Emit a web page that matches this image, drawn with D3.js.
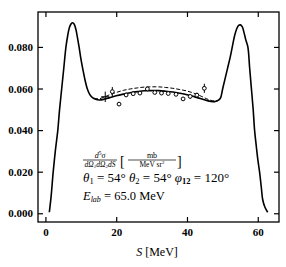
<!DOCTYPE html>
<html><head><meta charset="utf-8">
<script src="https://cdn.jsdelivr.net/npm/d3@7"></script>
<style>
body{margin:0;background:#fff;}
svg{display:block;font-family:"Liberation Serif","DejaVu Serif",serif;}
</style></head><body>
<svg id="c" width="286" height="267"></svg>
<script>
// ---- data ----
const curveS = [1.1,1.6,2.2,2.8,3.5,4.0,4.6,5.2,5.8,6.3,6.8,7.3,7.7,8.1,8.6,9.0,9.5,10.0,10.6,11.2,11.8,12.5,13.3,14.2,15.2,16.5,18,20,22,24,26,28,30,32,34,36,38,40,42,44,45.5,46.8,47.8,48.6,49.4,50.1,50.8,51.5,52.2,52.8,53.4,54.0,54.6,55.1,55.6,56.1,56.6,57.2,57.7,58.2,58.7,59.1,59.6,60.0,60.5,61.0,61.4,62.0,62.8];
const solidV = [0.0005,0.008,0.020,0.030,0.040,0.050,0.060,0.070,0.080,0.0855,0.0895,0.0912,0.0916,0.0910,0.0885,0.0850,0.0800,0.0745,0.0690,0.0640,0.0600,0.0572,0.0556,0.0548,0.0545,0.0548,0.0555,0.0565,0.0573,0.0580,0.0585,0.0589,0.0590,0.0590,0.0587,0.0583,0.0577,0.0570,0.0561,0.0551,0.0543,0.0538,0.0537,0.0541,0.0552,0.0600,0.0650,0.0700,0.0750,0.0800,0.0850,0.0885,0.0904,0.0906,0.0898,0.0870,0.0835,0.0800,0.0700,0.0600,0.0500,0.0400,0.0320,0.0260,0.0200,0.0125,0.0065,0.0030,0.0005];
const dashS = [12.5,13.3,14.2,15.2,16.5,18,20,22,24,26,28,30,32,34,36,38,40,42,44,45.5,46.8,47.8,48.6];
const dashV = [0.0572,0.0557,0.0551,0.0551,0.0558,0.0569,0.0581,0.0591,0.0598,0.0603,0.0607,0.0608,0.0608,0.0605,0.0601,0.0595,0.0588,0.0577,0.0563,0.0551,0.0543,0.0540,0.0542];
const expS   = [16.9,18.9,20.8,22.8,24.8,26.7,28.8,30.9,32.8,34.7,36.9,38.9,40.9,42.8,44.9];
const expV   = [0.0560,0.0585,0.0525,0.0569,0.0575,0.0578,0.0598,0.0581,0.0578,0.0576,0.0572,0.0550,0.0562,0.0568,0.0601];
const expErr = [0.0025,0.0022,0.0008,0.0008,0.0008,0.0008,0.0008,0.0008,0.0008,0.0008,0.0008,0.0008,0.0010,0.0012,0.0022];
const xTicks = [0,20,40,60];
const yTicks = [0,0.02,0.04,0.06,0.08];

// ---- layout ----
const svg = d3.select("#c");
const L=38,R=279,T=12,B=222;
const x = d3.scaleLinear().domain([-2.1,66]).range([L,R]);
const y = d3.scaleLinear().domain([-0.0042,0.0968]).range([B,T]);

svg.append("rect").attr("x",L).attr("y",T).attr("width",R-L).attr("height",B-T)
  .attr("fill","none").attr("stroke","#000").attr("stroke-width",1.3);

const fmt = d3.format(".3f");
const gl = svg.append("g").attr("transform",`translate(${L},0)`)
  .call(d3.axisLeft(y).tickValues(yTicks).tickFormat(fmt).tickSize(-5).tickPadding(5));
const gr = svg.append("g").attr("transform",`translate(${R},0)`)
  .call(d3.axisRight(y).tickValues(yTicks).tickFormat("").tickSize(-5));
const gb = svg.append("g").attr("transform",`translate(0,${B})`)
  .call(d3.axisBottom(x).tickValues(xTicks).tickFormat(d3.format("d")).tickSize(-5).tickPadding(6));
const gt = svg.append("g").attr("transform",`translate(0,${T})`)
  .call(d3.axisTop(x).tickValues(xTicks).tickFormat("").tickSize(-5));
[gl,gr,gb,gt].forEach(g=>{
  g.select(".domain").remove();
  g.selectAll("line").attr("stroke","#000").attr("stroke-width",1.2);
  g.selectAll("text").attr("fill","#000").attr("font-size",11)
   .attr("font-family","Liberation Serif, serif").attr("font-weight","bold");
});

// ---- curves ----
const line = d3.line().x(d=>x(d[0])).y(d=>y(d[1])).curve(d3.curveCatmullRom);
svg.append("path").datum(dashS.map((s,i)=>[s,dashV[i]])).attr("d",line)
  .attr("fill","none").attr("stroke","#000").attr("stroke-width",1).attr("stroke-dasharray","4,2");
svg.append("path").datum(curveS.map((s,i)=>[s,solidV[i]])).attr("d",line)
  .attr("fill","none").attr("stroke","#000").attr("stroke-width",1.6);

// ---- data points ----
const pts = expS.map((s,i)=>({s,v:expV[i],e:expErr[i],i}));
const gp = svg.append("g");
gp.selectAll("line.eb").data(pts).join("line").attr("class","eb")
  .attr("x1",d=>x(d.s)).attr("x2",d=>x(d.s))
  .attr("y1",d=>y(d.v-d.e)).attr("y2",d=>y(d.v+d.e))
  .attr("stroke","#000").attr("stroke-width",1);
gp.selectAll("line.hb").data(pts.filter(d=>d.i===0)).join("line").attr("class","hb")
  .attr("x1",d=>x(d.s)-4).attr("x2",d=>x(d.s)+4)
  .attr("y1",d=>y(d.v)).attr("y2",d=>y(d.v))
  .attr("stroke","#000").attr("stroke-width",1.2);
gp.selectAll("circle").data(pts.filter(d=>d.i!==0)).join("circle")
  .attr("cx",d=>x(d.s)).attr("cy",d=>y(d.v)).attr("r",1.9)
  .attr("fill","#fff").attr("stroke","#000").attr("stroke-width",1);

// ---- labels ----
svg.append("text").attr("x",157).attr("y",256).attr("text-anchor","middle")
  .attr("font-size",12).html('<tspan font-style="italic">S</tspan> [MeV]');

const ann = svg.append("g").attr("font-size",12);
// fraction d5sigma / dOmega1 dOmega2 dS
ann.append("text").attr("x",100).attr("y",157.5).attr("text-anchor","middle").attr("font-size",8)
  .html('<tspan font-style="italic">d</tspan><tspan font-size="5.5" dy="-3">5</tspan><tspan font-style="italic" dy="3">σ</tspan>');
ann.append("line").attr("x1",83).attr("x2",117).attr("y1",160).attr("y2",160).attr("stroke","#000").attr("stroke-width",0.7);
ann.append("text").attr("x",100).attr("y",166.5).attr("text-anchor","middle").attr("font-size",7.5).attr("font-style","italic")
  .html('dΩ<tspan font-size="5" dy="1.5">1</tspan><tspan dy="-1.5">dΩ</tspan><tspan font-size="5" dy="1.5">2</tspan><tspan dy="-1.5">dS</tspan>');
ann.append("text").attr("x",120).attr("y",166).attr("font-size",14).text("[");
ann.append("text").attr("x",152).attr("y",157.5).attr("text-anchor","middle").attr("font-size",8).text("mb");
ann.append("line").attr("x1",128).attr("x2",176).attr("y1",160).attr("y2",160).attr("stroke","#000").attr("stroke-width",0.7);
ann.append("text").attr("x",152).attr("y",166.5).attr("text-anchor","middle").attr("font-size",7.5)
  .html('MeV sr<tspan font-size="5" dy="-2.5">2</tspan>');
ann.append("text").attr("x",177).attr("y",166).attr("font-size",14).text("]");

ann.append("text").attr("x",83).attr("y",182).attr("font-size",13)
  .html('<tspan font-style="italic">θ</tspan><tspan font-size="8.5" dy="2">1</tspan><tspan dy="-2"> = 54° </tspan><tspan font-style="italic">θ</tspan><tspan font-size="8.5" dy="2">2</tspan><tspan dy="-2"> = 54° </tspan><tspan font-style="italic">φ</tspan><tspan font-size="8.5" dy="2" font-weight="bold">12</tspan><tspan dy="-2"> = 120°</tspan>');
ann.append("text").attr("x",83).attr("y",200).attr("font-size",12.5)
  .html('<tspan font-style="italic">E</tspan><tspan font-size="8" dy="2" font-style="italic">lab</tspan><tspan dy="-2"> = 65.0 MeV</tspan>');
</script>
</body></html>
